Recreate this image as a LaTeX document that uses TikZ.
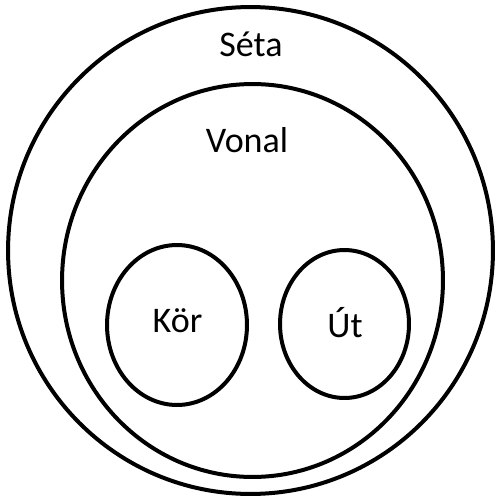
\documentclass[tikz,border=0pt]{standalone}
\usepackage{fontspec}
\setmainfont{Carlito}
\usetikzlibrary{shapes.geometric}
\begin{document}
\begin{tikzpicture}[x=0.02cm,y=-0.02cm,
  ring/.style={draw=black,line width=0.08cm,ellipse,inner sep=0pt,outer sep=0pt},
  lbl/.style={font=\fontsize{20.5pt}{24pt}\selectfont,anchor=base,inner sep=0pt}]
\useasboundingbox (0,0) rectangle (500,500);
\node[ring,minimum width=9.7cm,minimum height=9.74cm] (seta) at (250.5,250.5) {};
\node[ring,minimum width=7.62cm,minimum height=7.86cm] (vonal) at (252.5,280.5) {};
\node[ring,minimum width=2.8cm,minimum height=3.2cm] (kor) at (177,325) {};
\node[ring,minimum width=2.58cm,minimum height=2.96cm] (ut) at (344.5,324) {};
\node[lbl] (tseta) at (251,57) {Séta};
\node[lbl] (tvonal) at (247,152.7) {Vonal};
\node[lbl] (tkor) at (177.5,332.7) {Kör};
\node[lbl] (tut) at (345,337) {Út};
\end{tikzpicture}
\end{document}
